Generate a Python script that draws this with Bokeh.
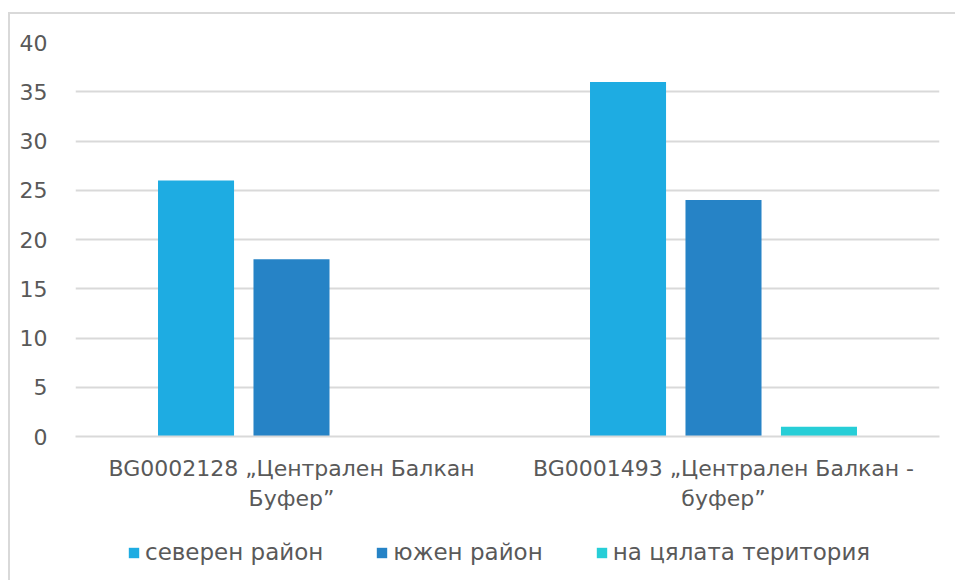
from bokeh.plotting import figure
from bokeh.layouts import column
from bokeh.models import (Range1d, FactorRange, Legend, LegendItem, ColumnDataSource,
                          CategoricalAxis, CustomJSTickFormatter)
from bokeh.transform import dodge
from bokeh.embed import file_html
from bokeh.resources import INLINE

categories = ["BG0002128 „Централен Балкан Буфер”", "BG0001493 „Централен Балкан - буфер”"]
label_line1 = {categories[0]: "BG0002128 „Централен Балкан", categories[1]: "BG0001493 „Централен Балкан -"}
label_line2 = {categories[0]: "Буфер”", categories[1]: "буфер”"}
series_names = ["северен район", "южен район", "на цялата територия"]
north = [26, 36]
south = [18, 24]
whole = [0, 1]
colors = ["#1EACE2", "#2683C6", "#27CED7"]
y_ticks = [0, 5, 10, 15, 20, 25, 30, 35, 40]

FONT = "DejaVu Sans"
TXT = "#595959"
FS = "22px"

src = ColumnDataSource(dict(cat=categories, north=north, south=south, whole=whole))

p = figure(x_range=FactorRange(*categories, range_padding=0), y_range=Range1d(0, 40),
           width=945, height=505, output_backend="svg", toolbar_location=None,
           min_border_left=65, min_border_right=16, min_border_top=28, min_border_bottom=83)
p.outline_line_color = None

offsets = [-0.221, 0.0, 0.221]
fields = ["north", "south", "whole"]
for f, off, c in zip(fields, offsets, colors):
    p.vbar(x=dodge("cat", off, range=p.x_range), top=f, width=0.176, source=src,
           fill_color=c, line_color=None)

p.yaxis.ticker = y_ticks
p.yaxis.axis_line_color = None
p.yaxis.major_tick_line_color = None
p.yaxis.minor_tick_line_color = None
p.yaxis.major_label_text_font = FONT
p.yaxis.major_label_text_font_size = FS
p.yaxis.major_label_text_color = TXT
p.yaxis.major_label_standoff = 22

fmt_code = "return m[tick] !== undefined ? m[tick] : tick;"
p.xaxis.formatter = CustomJSTickFormatter(args=dict(m=label_line1), code=fmt_code)
p.xaxis.axis_line_color = "#D9D9D9"
p.xaxis.axis_line_width = 2
p.xaxis.major_tick_line_color = None
p.xaxis.minor_tick_line_color = None
p.xaxis.major_label_text_font = FONT
p.xaxis.major_label_text_font_size = FS
p.xaxis.major_label_text_color = TXT
p.xaxis.major_label_standoff = 13

ax2 = CategoricalAxis(axis_line_color=None, major_tick_line_color=None, minor_tick_line_color=None,
                      formatter=CustomJSTickFormatter(args=dict(m=label_line2), code=fmt_code),
                      major_label_text_font=FONT,
                      major_label_text_font_size=FS, major_label_text_color=TXT,
                      major_label_standoff=-4)
p.add_layout(ax2, "below")

p.xgrid.grid_line_color = None
p.ygrid.grid_line_color = "#D9D9D9"
p.ygrid.grid_line_width = 2

# legend strip: the same series drawn again, kept outside its visible y range
lf = figure(x_range=FactorRange(*categories, range_padding=0), y_range=Range1d(1000, 1001),
            width=945, height=61, output_backend="svg", toolbar_location=None,
            x_axis_location=None, y_axis_location=None,
            min_border_left=0, min_border_right=0, min_border_top=0, min_border_bottom=0)
lf.grid.visible = False
lf.outline_line_color = None
items = []
for f, off, c, name in zip(fields, offsets, colors, series_names):
    r = lf.vbar(x=dodge("cat", off, range=lf.x_range), top=f, width=0.176, source=src,
                fill_color=c, line_color=None)
    items.append(LegendItem(label=name, renderers=[r]))

legend = Legend(items=items, orientation="horizontal", location=(52, 15))
legend.label_text_font = FONT
legend.label_text_font_size = "23px"
legend.label_text_color = TXT
legend.glyph_width = 13
legend.glyph_height = 13
legend.label_standoff = 5
legend.spacing = 52
legend.border_line_color = None
legend.background_fill_alpha = 0
legend.margin = 0
legend.padding = 0
lf.add_layout(legend)

layout = column(p, lf, spacing=0,
                styles={"border-top": "2px solid #D9D9D9", "border-left": "2px solid #D9D9D9",
                        "margin-top": "12px", "margin-left": "8px"})

open("out.html", "w").write(file_html(layout, INLINE))
